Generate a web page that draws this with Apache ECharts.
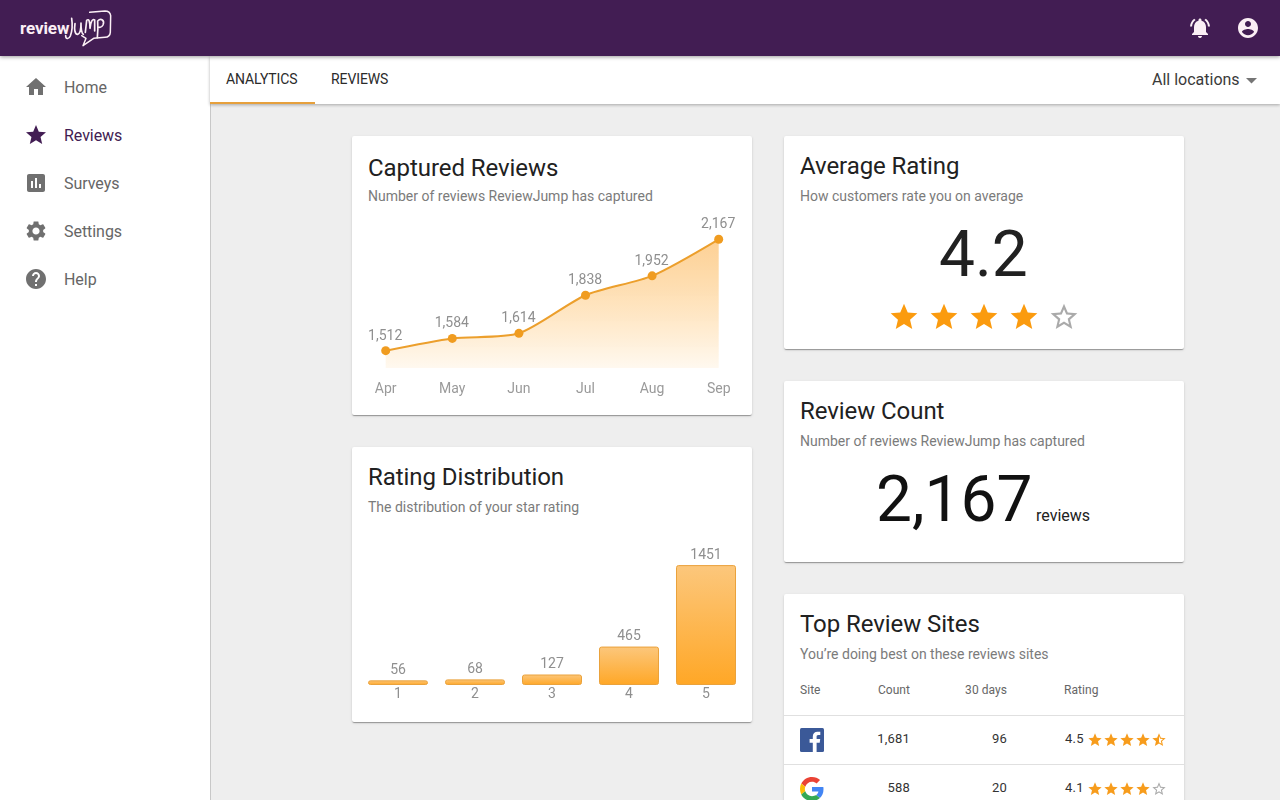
<!DOCTYPE html>
<html><head><meta charset="utf-8">
<script src="https://cdn.jsdelivr.net/npm/echarts@6/dist/echarts.min.js"></script>
<style>
html,body{margin:0;padding:0;width:1280px;height:800px;overflow:hidden;background:#eee;font-family:Roboto,sans-serif}
.a{position:absolute;white-space:nowrap}
.t{position:absolute;white-space:nowrap;line-height:24px;transform:translateY(-50%)}
.card{position:absolute;background:#fff;border-radius:2px;box-shadow:0 2px 1px -1px rgba(0,0,0,.2),0 1px 1px 0 rgba(0,0,0,.14),0 1px 3px 0 rgba(0,0,0,.12)}
.h{font-size:24px;color:#212121;letter-spacing:-.07px}
.s{font-size:14px;color:#7b7b7b;letter-spacing:0}
svg{position:absolute;display:block}
</style></head><body>
<div id="root"></div>
<script>
const months = ['Apr','May','Jun','Jul','Aug','Sep'];
const capturedReviews = [1512,1584,1614,1838,1952,2167];
const ratingLabels = ['1','2','3','4','5'];
const ratingCounts = [56,68,127,465,1451];
const navItems = ['Home','Reviews','Surveys','Settings','Help'];
const siteRows = [['1,681','96','4.5'],['588','20','4.1']];

const P = {
 home:'M10 20v-6h4v6h5v-8h3L12 3 2 12h3v8z',
 star:'M12 17.27L18.18 21l-1.64-7.03L22 9.24l-7.19-.61L12 2 9.19 8.63 2 9.24l5.46 4.73L5.82 21z',
 poll:'M19 3H5c-1.1 0-2 .9-2 2v14c0 1.1.9 2 2 2h14c1.1 0 2-.9 2-2V5c0-1.1-.9-2-2-2zM9 17H7v-7h2v7zm4 0h-2V7h2v10zm4 0h-2v-4h2v4z',
 gear:'M19.14 12.94c.04-.3.06-.61.06-.94 0-.32-.02-.64-.07-.94l2.03-1.58c.18-.14.23-.41.12-.61l-1.92-3.32c-.12-.22-.37-.29-.59-.22l-2.39.96c-.5-.38-1.03-.7-1.62-.94l-.36-2.54c-.04-.24-.24-.41-.48-.41h-3.84c-.24 0-.43.17-.47.41l-.36 2.54c-.59.24-1.13.57-1.62.94l-2.39-.96c-.22-.08-.47 0-.59.22L2.74 8.87c-.12.21-.08.47.12.61l2.03 1.58c-.05.3-.09.63-.09.94s.02.64.07.94l-2.03 1.58c-.18.14-.23.41-.12.61l1.92 3.32c.12.22.37.29.59.22l2.39-.96c.5.38 1.03.7 1.62.94l.36 2.54c.05.24.24.41.48.41h3.84c.24 0 .44-.17.47-.41l.36-2.54c.59-.24 1.13-.56 1.62-.94l2.39.96c.22.08.47 0 .59-.22l1.92-3.32c.12-.22.07-.47-.12-.61l-2.01-1.58zM12 15.6c-1.98 0-3.6-1.62-3.6-3.6s1.62-3.6 3.6-3.6 3.6 1.62 3.6 3.6-1.62 3.6-3.6 3.6z',
 help:'M12 2C6.48 2 2 6.48 2 12s4.48 10 10 10 10-4.48 10-10S17.52 2 12 2zm1 17h-2v-2h2v2zm2.07-7.75l-.9.92C13.45 12.9 13 13.5 13 15h-2v-.5c0-1.1.45-2.1 1.17-2.83l1.24-1.26c.37-.36.59-.86.59-1.41 0-1.1-.9-2-2-2s-2 .9-2 2H8c0-2.21 1.79-4 4-4s4 1.79 4 4c0 .88-.36 1.68-.93 2.25z',
 bell:'M7.58 4.08L6.15 2.65C3.75 4.48 2.17 7.3 2.03 10.5h2c.15-2.65 1.51-4.97 3.55-6.42zm12.39 6.42h2c-.15-3.2-1.73-6.02-4.12-7.85l-1.42 1.43c2.02 1.45 3.39 3.77 3.54 6.42zM18 11c0-3.07-1.64-5.64-4.5-6.32V4c0-.83-.67-1.5-1.5-1.5s-1.5.67-1.5 1.5v.68C7.63 5.36 6 7.92 6 11v5l-2 2v1h16v-1l-2-2v-5zm-6 11c.14 0 .27-.01.4-.04.65-.14 1.18-.58 1.44-1.18.1-.24.15-.5.15-.78h-4c.01 1.1.9 2 2.01 2z',
 user:'M12 2C6.48 2 2 6.48 2 12s4.48 10 10 10 10-4.48 10-10S17.52 2 12 2zm0 3c1.66 0 3 1.34 3 3s-1.34 3-3 3-3-1.34-3-3 1.34-3 3-3zm0 14.2c-2.5 0-4.71-1.28-6-3.22.03-1.99 4-3.08 6-3.08 1.99 0 5.97 1.09 6 3.08-1.29 1.94-3.5 3.22-6 3.22z',
 starO:'M22 9.24l-7.19-.62L12 2 9.19 8.63 2 9.24l5.46 4.73L5.82 21 12 17.27 18.18 21l-1.63-7.03L22 9.24zM12 15.4l-3.76 2.27 1-4.28-3.32-2.88 4.38-.38L12 6.1l1.71 4.04 4.38.38-3.32 2.88 1 4.28L12 15.4z',
 starH:'M22 9.24l-7.19-.62L12 2 9.19 8.63 2 9.24l5.46 4.73L5.82 21 12 17.27 18.18 21l-1.63-7.03L22 9.24zM12 15.4V6.1l1.71 4.04 4.38.38-3.32 2.88 1 4.28L12 15.4z'
};
const root = document.getElementById('root');
let html = '';
const ic = (p,cx,cy,sz,c)=>`<svg style="left:${cx-sz/2}px;top:${cy-sz/2}px" width="${sz}" height="${sz}" viewBox="0 0 24 24"><path fill="${c}" d="${p}"/></svg>`;
const tx = (s,x,cy,st)=>`<div class="t" style="left:${x}px;top:${cy}px;${st||''}">${s}</div>`;
const txr = (s,r,cy,st)=>`<div class="t" style="right:${1280-r}px;top:${cy}px;${st||''}">${s}</div>`;
const card = (x,y,w,h)=>`<div class="card" style="left:${x}px;top:${y}px;width:${w}px;height:${h}px"></div>`;

// chrome
html += `<div class="a" style="left:0;top:56px;width:210px;height:744px;background:#fff;border-right:1px solid #c8c8c8"></div>`;
html += `<div class="a" style="left:210px;top:56px;width:1070px;height:48px;background:#fff;box-shadow:0 1px 3px rgba(0,0,0,.3)"></div>`;
html += `<div class="a" style="left:0;top:0;width:1280px;height:56px;background:#421d53;box-shadow:0 1px 4px rgba(0,0,0,.4)"></div>`;
// logo
html += tx('review',20,28,'font-size:17px;font-weight:700;color:#fbeff5;letter-spacing:-.1px');
html += `<svg style="left:15px;top:5px" width="100" height="45" viewBox="0 0 300 135"><g fill="none" stroke="#fbeff5" stroke-linecap="round" stroke-linejoin="round">
<path stroke-width="5" d="M170 40C173 60 171 80 166 93C161 104 152 102 152 92"/>
<path stroke-width="5" d="M180 56C178 70 178 88 188 88C196 86 198 70 198 54C198 70 200 85 205 88"/>
<path stroke-width="5" d="M211 82L215 46C222 40 225 50 225 70C227 50 232 40 239 45L239 78"/>
<path stroke-width="5" d="M247 98C249 80 249 62 248 48C258 38 270 46 264 60C260 68 254 68 249 66"/>
<path stroke-width="4.500" d="M224 22L270 18Q285 18 287 32L286 82Q285 96 270 97L236 100L204 122L213 100L200 92"/>
</g></svg>`;
html += ic(P.bell,1200,28,24,'#fbeff5') + ic(P.user,1248,28,24,'#fbeff5');
// nav
const navIcons=[P.home,P.star,P.poll,P.gear,P.help];
navItems.forEach((n,i)=>{const c=i==1?'#421d53':'#707070', y=87+48*i;
  html += ic(navIcons[i],36,y,24,c);
  html += tx(n,64,y+1,`font-size:16px;letter-spacing:-.05px;color:${i==1?'#421d53':'#666'}`);});
// tabs
html += tx('ANALYTICS',226,78.5,'font-size:14px;font-weight:400;color:#2b2b2b;letter-spacing:-.1px');
html += tx('REVIEWS',331,78.5,'font-size:14px;color:#2b2b2b;letter-spacing:-.1px');
html += `<div class="a" style="left:210px;top:102px;width:105px;height:2px;background:#e6a03c"></div>`;
html += tx('All locations',1152,80,'font-size:16px;color:#3a3a3a;letter-spacing:0');
html += `<svg style="left:1246px;top:78px" width="11" height="6"><path fill="#757575" d="M0 0h11L5.500 5.500z"/></svg>`;
// cards
html += card(352,136,400,279)+card(352,447,400,275)+card(784,136,400,213)+card(784,381,400,181)+card(784,594,400,230);
html += tx('Captured Reviews',368,168,'').replace('class="t"','class="t h"');
html += tx('Number of reviews ReviewJump has captured',368,196,'').replace('class="t"','class="t s"');
html += tx('Rating Distribution',368,477,'').replace('class="t"','class="t h"');
html += tx('The distribution of your star rating',368,507,'').replace('class="t"','class="t s"');
html += tx('Average Rating',800,166,'').replace('class="t"','class="t h"');
html += tx('How customers rate you on average',800,196,'').replace('class="t"','class="t s"');
html += tx('4.2',939,255,'font-size:64px;color:#212121');
[0,1,2,3,4].forEach(i=>{html+=ic(i<4?P.star:P.starO,904+40*i,317,32,i<4?'#fb9b0f':'#aaaaaa');});
html += tx('Review Count',800,411,'').replace('class="t"','class="t h"');
html += tx('Number of reviews ReviewJump has captured',800,441,'').replace('class="t"','class="t s"');
html += tx('2,167',876,499.5,'font-size:64px;color:#111');
html += tx('reviews',1036,516,'font-size:16px;color:#212121;letter-spacing:0');
html += tx('Top Review Sites',800,624,'').replace('class="t"','class="t h"');
html += tx('You’re doing best on these reviews sites',800,654,'').replace('class="t"','class="t s"');
const hd='font-size:12px;font-weight:400;color:#666;letter-spacing:.05px';
html += tx('Site',800,690,hd)+txr('Count',910,690,hd)+txr('30 days',1007,690,hd)+tx('Rating',1064,690,hd);
html += `<div class="a" style="left:784px;top:715px;width:400px;height:1px;background:#e0e0e0"></div><div class="a" style="left:784px;top:764px;width:400px;height:1px;background:#e0e0e0"></div>`;
siteRows.forEach((r,k)=>{const y=738.5+49*k, c='font-size:13px;color:#333;letter-spacing:.2px';
  html+=txr(r[0],910,y,c)+txr(r[1],1007,y,c)+tx(r[2],1065,y,c);
  const stars = k==0?[P.star,P.star,P.star,P.star,P.starH]:[P.star,P.star,P.star,P.star,P.starO];
  stars.forEach((s,i)=>{html+=ic(s,1095+16*i,y+1,16,s==P.starO?'#aaaaaa':'#f79c1c');});
});
// facebook + google icons
html += `<svg style="left:800px;top:728px" width="24" height="24" viewBox="0 0 24 24"><rect width="24" height="24" rx="1.500" fill="#3b5998"/><path fill="#fff" d="M16.600 24v-9.300h3.100l.5-3.600h-3.600V8.800c0-1 .3-1.800 1.800-1.800h1.900V3.800c-.3 0-1.500-.1-2.800-.1-2.800 0-4.700 1.700-4.700 4.800v2.600H9.600v3.600h3.200V24z"/></svg>`;
html += `<svg style="left:800px;top:777px" width="24" height="24" viewBox="0 0 48 48"><path fill="#EA4335" d="M24 9.500c3.500 0 6.700 1.200 9.200 3.600l6.900-6.900C35.900 2.400 30.500 0 24 0 14.600 0 6.500 5.400 2.600 13.200l8 6.200C12.400 13.700 17.700 9.500 24 9.500z"/><path fill="#4285F4" d="M47 24.500c0-1.600-.1-3.100-.4-4.500H24v9h12.900c-.6 3-2.200 5.500-4.700 7.200l7.700 6c4.500-4.200 7.100-10.300 7.100-17.700z"/><path fill="#FBBC05" d="M10.500 28.600c-.5-1.400-.8-3-.8-4.600s.3-3.200.8-4.600l-8-6.200C.9 16.500 0 20.100 0 24s.9 7.500 2.600 10.800z"/><path fill="#34A853" d="M24 48c6.500 0 11.900-2.100 15.900-5.800l-7.700-6c-2.200 1.400-4.900 2.300-8.200 2.300-6.300 0-11.600-4.200-13.500-9.900l-8 6.200C6.500 42.600 14.600 48 24 48z"/></svg>`;
html += `<div id="c1" class="a" style="left:352px;top:200px;width:400px;height:215px"></div><div id="c2" class="a" style="left:352px;top:520px;width:400px;height:200px"></div>`;
root.innerHTML = html;

const comma = v => String(v).replace(/\B(?=(\d{3})+$)/g,',');
const f = 'Roboto';
const c1 = echarts.init(document.getElementById('c1'));
c1.setOption({
  animation:false,
  grid:{left:33.7,right:33.3,top:0,bottom:47},
  xAxis:{type:'category',data:months,boundaryGap:false,axisLine:{show:false},axisTick:{show:false},
    axisLabel:{color:'#9a9a9a',fontFamily:f,fontSize:14,margin:14,interval:0}},
  yAxis:{type:'value',min:1410,max:2398,show:false,splitLine:{show:false}},
  series:[{type:'line',data:capturedReviews,smooth:0.25,symbol:'circle',symbolSize:9,
    itemStyle:{color:'#f09c20'},lineStyle:{color:'#ec9f2c',width:2},
    areaStyle:{color:{type:'linear',x:0,y:0,x2:0,y2:1,colorStops:[{offset:0,color:'rgba(251,176,76,.85)'},{offset:1,color:'rgba(255,167,38,.1)'}]}},
    label:{show:true,position:'top',distance:3,offset:[-0.5,0],color:'#8f8f8f',fontFamily:f,fontSize:14,formatter:p=>comma(p.value)}}]
});
const c2 = echarts.init(document.getElementById('c2'));
c2.setOption({
  animation:false,
  grid:{left:7.5,right:7.5,top:8,bottom:35},
  xAxis:{type:'category',data:ratingLabels,axisLine:{show:false},axisTick:{show:false},
    axisLabel:{color:'#8f8f8f',fontFamily:f,fontSize:14,margin:2,interval:0}},
  yAxis:{type:'value',min:0,max:1900,show:false,splitLine:{show:false}},
  series:[{type:'bar',data:ratingCounts,barWidth:60,
    itemStyle:{borderColor:'#eaa23c',borderWidth:1,borderRadius:2,
      color:{type:'linear',x:0,y:0,x2:0,y2:1,colorStops:[{offset:0,color:'#fcc77c'},{offset:1,color:'#ffa726'}]}},
    label:{show:true,position:'top',distance:3,color:'#8f8f8f',fontFamily:f,fontSize:14}}]
});
</script></body></html>
